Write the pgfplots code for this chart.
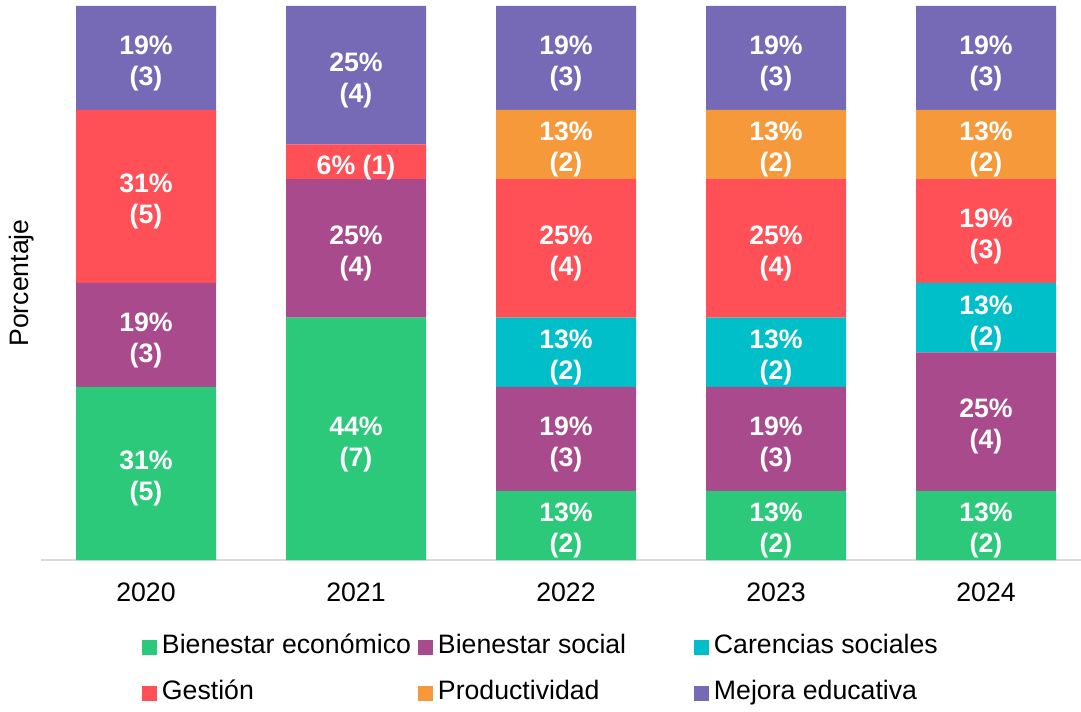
\documentclass[border=0pt]{standalone}
\usepackage{fontspec}
\setmainfont{Liberation Sans}
\usepackage{pgfplots}
\pgfplotsset{compat=1.18}
\definecolor{cBE}{RGB}{44,201,123}
\definecolor{cBS}{RGB}{169,74,140}
\definecolor{cCS}{RGB}{0,191,201}
\definecolor{cGE}{RGB}{255,79,87}
\definecolor{cPR}{RGB}{245,153,58}
\definecolor{cME}{RGB}{118,105,182}
\definecolor{lineGray}{RGB}{217,217,217}
\newcommand\twoline{\pgfmathtruncatemacro\pct{round(100*\pgfplotspointmeta/16)}\pct\%\\(\pgfplotspointmeta)}
\newcommand\oneline{\pgfmathtruncatemacro\pct{round(100*\pgfplotspointmeta/16)}\pct\%~(\pgfplotspointmeta)}
\newcommand\barlab{\ifcase\pgfplotspointmeta\relax\or\expandafter\oneline\else\expandafter\twoline\fi}
\newcommand\lgd[1]{\makebox[195.75pt][l]{\hspace{3.75pt}#1}}
\begin{document}
\begin{tikzpicture}
\useasboundingbox (-30.75pt,-113.25pt) rectangle (780pt,420pt);
\begin{axis}[
  x=157.5pt, y=25.969pt,
  xmin=-0.5, xmax=4.452, ymin=0, ymax=16,
  ybar stacked, bar width=105pt,
  axis x line*=bottom, axis y line*=left,
  y axis line style={draw=none},
  x axis line style={draw=lineGray, line width=1.1pt},
  ytick=\empty,
  xtick={0,1,2,3,4}, xticklabels={2020,2021,2022,2023,2024},
  major tick length=0pt,
  xticklabel style={inner sep=0pt, anchor=north, yshift=-17.25pt, font=\fontsize{20}{24}\selectfont},
  ylabel={Porcentaje},
  every axis y label/.style={at={(axis description cs:-0.0183,0.5)}, rotate=90, anchor=center, font=\fontsize{20}{24}\selectfont},
  legend columns=3,
  legend style={draw=none, inner sep=0pt, outer sep=0pt, column sep=0pt, row sep=15.5pt,
    at={(axis description cs:0.0971,-0.1342)}, anchor=north west,
    nodes={inner sep=0pt, text height=14.5pt, text depth=4.5pt, font=\fontsize{20}{24}\selectfont}},
  legend image code/.code={\fill[#1] (0pt,-5.625pt) rectangle (11.25pt,5.625pt);},
  point meta=explicit symbolic,
  nodes near coords={\barlab},
  nodes near coords align={center},
  every node near coord/.append style={font=\bfseries\fontsize{20}{23.25}\selectfont, text=white, align=center, anchor=center, yshift=-4pt},
  clip=false,
]
\addplot[fill=cBE, draw=none] coordinates {(0,5)[5] (1,7)[7] (2,2)[2] (3,2)[2] (4,2)[2]};
\addlegendentry{\lgd{Bienestar económico}}
\addplot[fill=cBS, draw=none] coordinates {(0,3)[3] (1,4)[4] (2,3)[3] (3,3)[3] (4,4)[4]};
\addlegendentry{\lgd{Bienestar social}}
\addplot[fill=cCS, draw=none] coordinates {(0,0)[0] (1,0)[0] (2,2)[2] (3,2)[2] (4,2)[2]};
\addlegendentry{\lgd{Carencias sociales}}
\addplot[fill=cGE, draw=none] coordinates {(0,5)[5] (1,1)[1] (2,4)[4] (3,4)[4] (4,3)[3]};
\addlegendentry{\lgd{Gestión}}
\addplot[fill=cPR, draw=none] coordinates {(0,0)[0] (1,0)[0] (2,2)[2] (3,2)[2] (4,2)[2]};
\addlegendentry{\lgd{Productividad}}
\addplot[fill=cME, draw=none] coordinates {(0,3)[3] (1,4)[4] (2,3)[3] (3,3)[3] (4,3)[3]};
\addlegendentry{\lgd{Mejora educativa}}
\end{axis}
\end{tikzpicture}
\end{document}
